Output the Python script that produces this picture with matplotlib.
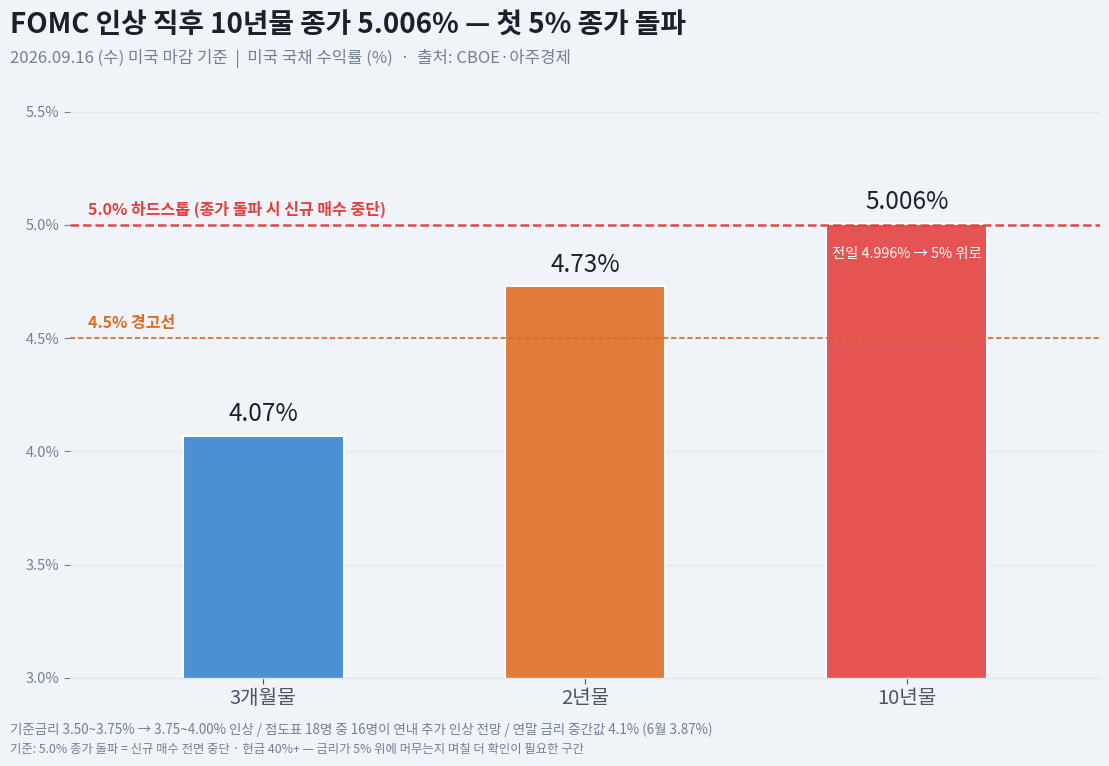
import matplotlib
matplotlib.use("Agg")
import matplotlib.pyplot as plt
from matplotlib.ticker import FuncFormatter

plt.rcParams['font.family'] = ['Noto Sans CJK KR', 'DejaVu Sans']

categories = ["3개월물", "2년물", "10년물"]
yields = [4.07, 4.73, 5.006]
value_labels = ["4.07%", "4.73%", "5.006%"]
bar_colors = ["#4a90d2", "#e07b39", "#e55353"]
yticks = [3.0, 3.5, 4.0, 4.5, 5.0, 5.5]
hard_stop = 5.0
warn_line = 4.5

title = "FOMC 인상 직후 10년물 종가 5.006% — 첫 5% 종가 돌파"
subtitle = "2026.09.16 (수) 미국 마감 기준  |  미국 국채 수익률 (%)  ·  출처: CBOE·아주경제"
foot1 = "기준금리 3.50~3.75% → 3.75~4.00% 인상 / 점도표 18명 중 16명이 연내 추가 인상 전망 / 연말 금리 중간값 4.1% (6월 3.87%)"
foot2 = "기준: 5.0% 종가 돌파 = 신규 매수 전면 중단 · 현금 40%+ — 금리가 5% 위에 머무는지 며칠 더 확인이 필요한 구간"
bar_note = "전일 4.996% → 5% 위로"

bg = "#f0f4f8"
fig = plt.figure(figsize=(11.09, 7.66), dpi=100, facecolor=bg)
ax = fig.add_axes([0.0631, 0.1149, 0.9288, 0.7689], facecolor=bg)

x = list(range(len(categories)))
ax.bar(x, yields, width=0.5, color=bar_colors, edgecolor="white", linewidth=1.5, zorder=2)

ax.axhline(hard_stop, color="#e53e3e", lw=1.8, ls=(0, (3.4, 1.6)), alpha=0.95, zorder=3)
ax.axhline(warn_line, color="#dd6b20", lw=1.5, ls=(0, (2.4, 1.5)), alpha=0.85, zorder=3)

ax.text(-0.545, hard_stop + 0.03, "5.0% 하드스톱 (종가 돌파 시 신규 매수 중단)", color="#e53e3e",
        fontsize=11.5, fontweight="bold", va="bottom", ha="left")
ax.text(-0.545, warn_line + 0.03, "4.5% 경고선", color="#dd6b20",
        fontsize=11.5, fontweight="bold", va="bottom", ha="left")

for xi, v, lab in zip(x, yields, value_labels):
    ax.annotate(lab, (xi, v), xytext=(0, 6), textcoords="offset points",
                ha="center", va="bottom", fontsize=17.5, fontweight="medium", color="#1a202c")

ax.annotate(bar_note, (2, yields[2]), xytext=(0, -17), textcoords="offset points",
            ha="center", va="top", fontsize=10.3, color="white")

ax.set_xlim(-0.6, 2.6)
ax.set_ylim(3.0, 5.6)
ax.set_yticks(yticks)
ax.yaxis.set_major_formatter(FuncFormatter(lambda v, p: f"{v:.1f}%"))
ax.set_xticks(x)
ax.set_xticklabels(categories, fontsize=14.5, fontweight="medium", color="#4a5568")
ax.tick_params(axis="y", labelsize=10.5, labelcolor="#718096", color="#718096", length=4, width=0.8)
ax.tick_params(axis="x", color="#4a5568", length=4, width=0.8, pad=3)
ax.grid(axis="y", color="#e2e8f0", lw=1, zorder=0)
ax.set_axisbelow(True)
for s in ["top", "right", "left"]:
    ax.spines[s].set_visible(False)
ax.spines["bottom"].set_color("#e2e8f0")
ax.spines["bottom"].set_linewidth(1)

fig.text(0.009, 0.968, title, fontsize=20, fontweight="bold", color="#1a202c", va="center", ha="left")
fig.text(0.009, 0.924, subtitle, fontsize=12, color="#718096", va="center", ha="left")
fig.text(0.009, 0.047, foot1, fontsize=9.7, color="#718096", va="center", ha="left")
fig.text(0.009, 0.021, foot2, fontsize=8.9, color="#718096", va="center", ha="left")

fig.savefig("out.png", dpi=100, facecolor=bg)
